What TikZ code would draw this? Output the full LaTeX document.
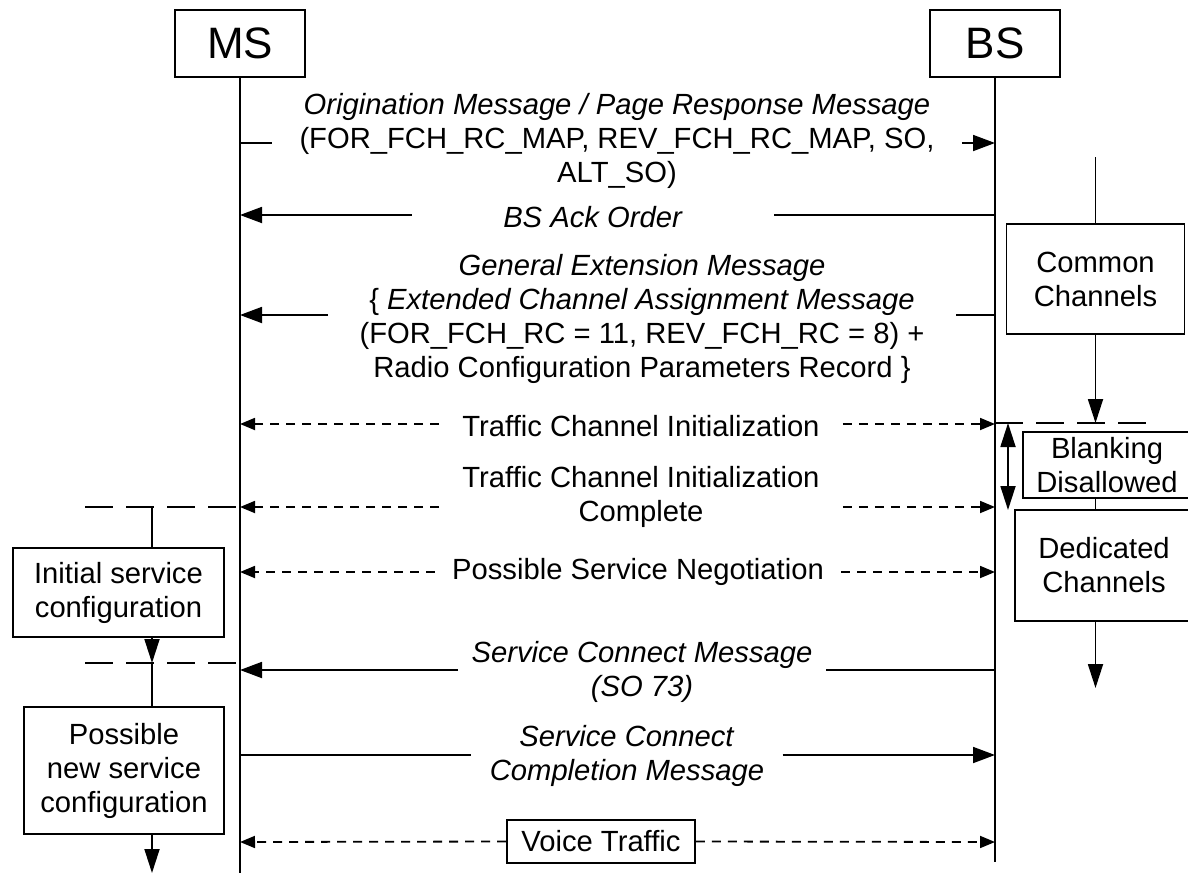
\documentclass[tikz,border=0pt]{standalone}
\usepackage{fontspec}
\setmainfont{Liberation Sans}
\usepackage{tikz}
\usetikzlibrary{positioning}
\usetikzlibrary{arrows.meta}
\newcommand{\msgfont}{\fontsize{14.6}{17}\selectfont}

\begin{document}
\begin{tikzpicture}[x=0.5pt,y=-0.5pt,
	txt/.style={font=\msgfont, align=center, inner ysep=0pt},
	box/.style={draw, line width=0.9pt, align=center, inner sep=1pt, font=\msgfont},
	actor/.style={draw, line width=0.9pt, minimum width=65pt, minimum height=33.5pt, font=\fontsize{22}{26}\selectfont},
	life/.style={line width=0.9pt},
	msg/.style={line width=0.9pt, -{Triangle[length=11pt,width=8pt]}},
	sig/.style={line width=0.9pt, dash pattern=on 4.5pt off 3.5pt, -{Triangle[length=7.5pt,width=6pt]}},
	phase/.style={line width=0.9pt, dash pattern=on 14pt off 6.5pt},
	flow/.style={line width=0.9pt, -{Triangle[length=12pt,width=7.5pt]}}]
				\newcommand{\msx}{240}
				\newcommand{\bsx}{995}
				\useasboundingbox (0,0) rectangle (1188,873);
				
				\node[actor] (ms) at (\msx, 43.5) {MS};
				\node[actor] (bs) at (\bsx, 43.5) {BS};
				\coordinate (msend) at (\msx, 873);
				\coordinate (bsend) at (\bsx, 862);
				\draw[life] (ms) to (msend);
				\draw[life] (bs) to (bsend);
				
				% message levels on the two lifelines
				\coordinate (ms1) at (\msx, 143);  \coordinate (bs1) at (\bsx, 143);
				\coordinate (ms2) at (\msx, 215);  \coordinate (bs2) at (\bsx, 215);
				\coordinate (ms3) at (\msx, 315);  \coordinate (bs3) at (\bsx, 315);
				\coordinate (ms4) at (\msx, 424);  \coordinate (bs4) at (\bsx, 424);
				\coordinate (ms5) at (\msx, 507);  \coordinate (bs5) at (\bsx, 507);
				\coordinate (ms6) at (\msx, 572);  \coordinate (bs6) at (\bsx, 572);
				\coordinate (ms7) at (\msx, 670);  \coordinate (bs7) at (\bsx, 670);
				\coordinate (ms8) at (\msx, 755);  \coordinate (bs8) at (\bsx, 755);
				\coordinate (ms9) at (\msx, 842);  \coordinate (bs9) at (\bsx, 842);
				
				\node[txt, inner xsep=13.5pt] (orig) at (617, 141) {\textit{Origination Message / Page Response Message}\\(FOR\_FCH\_RC\_MAP, REV\_FCH\_RC\_MAP, SO,\\ALT\_SO)};
				\node[txt, inner xsep=45.5pt] (ack) at (593, 217) {\textit{BS Ack Order}};
				\node[txt, inner xsep=15.5pt] (gext) at (642, 319) {\textit{General Extension Message}\\\{ \textit{Extended Channel Assignment Message}\\(FOR\_FCH\_RC = 11, REV\_FCH\_RC = 8) +\\Radio Configuration Parameters Record \}};
				\node[txt, inner xsep=11.5pt] (tci) at (641, 426) {Traffic Channel Initialization};
				\node[txt, inner xsep=11.5pt] (tcic) at (641, 497) {Traffic Channel Initialization\\Complete};
				\node[txt, inner xsep=8.5pt] (psn) at (638, 572) {Possible Service Negotiation};
				\node[txt, inner xsep=6.5pt] (scm) at (642, 672) {\textit{Service Connect Message}\\\textit{(SO 73)}};
				\node[txt, inner xsep=9pt] (sccm) at (627, 756) {\textit{Service Connect}\\\textit{Completion Message}};
				\node[box, minimum width=94pt, minimum height=21.5pt] (voice) at (601, 841.5) {Voice Traffic};
				
				\draw[life] (ms1) to (ms1 -| orig.west);
				\draw[msg] (bs1 -| orig.east) to (bs1);
				\draw[life] (bs2) to (bs2 -| ack.east);
				\draw[msg] (ms2 -| ack.west) to (ms2);
				\draw[life] (bs3) to (bs3 -| gext.east);
				\draw[msg] (ms3 -| gext.west) to (ms3);
				\draw[sig] (ms4 -| tci.west) to (ms4);
				\draw[sig] (bs4 -| tci.east) to (bs4);
				\draw[sig] (ms5 -| tcic.west) to (ms5);
				\draw[sig] (bs5 -| tcic.east) to (bs5);
				\draw[sig] (ms6 -| psn.west) to (ms6);
				\draw[sig] (bs6 -| psn.east) to (bs6);
				\draw[life] (bs7) to (bs7 -| scm.east);
				\draw[msg] (ms7 -| scm.west) to (ms7);
				\draw[life] (ms8) to (ms8 -| sccm.west);
				\draw[msg] (bs8 -| sccm.east) to (bs8);
				\draw[sig] (voice.west) to (ms9);
				\draw[sig] (voice.east) to (bs9);
				
				% channel state at the BS
				\node[box, minimum width=89pt, minimum height=55pt] (common) at (1095.5, 279) {Common\\Channels};
				\node[box, minimum width=84pt, minimum height=33pt] (blank) at (1107, 465) {Blanking\\Disallowed};
				\node[box, minimum width=89pt, minimum height=55.5pt] (ded) at (1104, 565.5) {Dedicated\\Channels};
				\coordinate (cctop) at (1095.5, 157);
				\coordinate (swl) at (\bsx, 423);
				\coordinate (swr) at (1150, 423);
				\coordinate (dedend) at (1095.5, 688);
				\coordinate (bla) at (1008, 423);
				\coordinate (blb) at (1008, 510);
				
				\draw[life] (cctop) to (common.north);
				\draw[flow] (common.south) to (common.south |- swl);
				\draw[phase] (swl) to (swr);
				\draw[life] (blank.south -| dedend) to (ded.north -| dedend);
				\draw[flow] (ded.south -| dedend) to (dedend);
				\draw[flow, {Triangle[length=12pt,width=7.5pt]}-{Triangle[length=12pt,width=7.5pt]}] (bla) to (blb);
				
				% service configuration at the MS
				\node[box, minimum width=105.5pt, minimum height=44.5pt] (init) at (118.5, 592.5) {Initial service\\configuration};
				\node[box, minimum width=100pt, minimum height=63.5pt] (newcfg) at (124, 770.5) {Possible\\new service\\configuration};
				\coordinate (cfga) at (85, 507);
				\coordinate (cfgb) at (85, 663);
				\coordinate (cfgx) at (152, 663);
				\coordinate (cfgend) at (152, 873);
				
				\draw[phase] (cfga) to (ms5);
				\draw[phase] (cfgb) to (ms5 |- cfgb);
				\draw[life] (cfga -| cfgx) to (init.north -| cfgx);
				\draw[flow] (init.south -| cfgx) to (cfgx);
				\draw[life] (cfgx) to (newcfg.north -| cfgx);
				\draw[flow] (newcfg.south -| cfgx) to (cfgend);
				
			\end{tikzpicture}
\end{document}
